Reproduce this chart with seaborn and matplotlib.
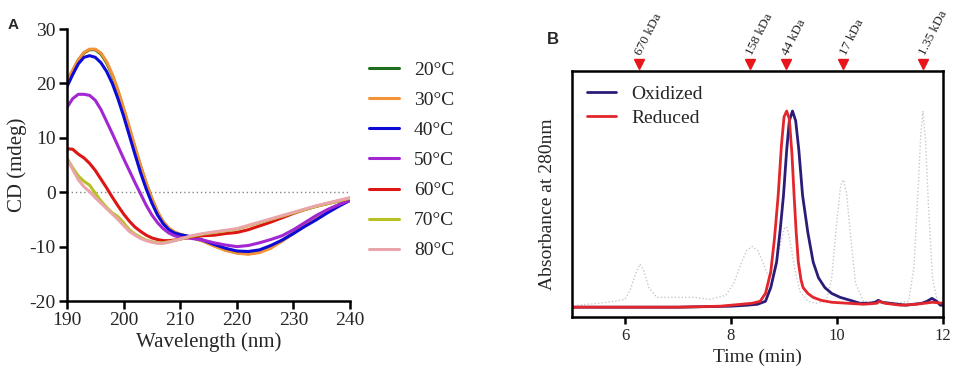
import numpy as np
import pandas as pd
import seaborn as sns
import matplotlib
matplotlib.use("Agg")
from matplotlib import pyplot as plt
from matplotlib import transforms

# ---- panel A: CD spectra ----
wavelength = [190, 191, 192, 193, 194, 195, 196, 197, 198, 199, 200,
              201, 202, 203, 204, 205, 206, 207, 208, 209, 210,
              212, 214, 216, 218, 220, 222, 224, 226, 228, 230,
              232, 234, 236, 238, 240]
cd_20 = [20.4, 22.3, 24.3, 25.6, 26.2, 26.2, 25.4, 23.8, 21.5, 18.6, 15.3,
         11.8, 8.2, 4.8, 1.6, -1.2, -3.7, -5.5, -6.7, -7.4, -7.8,
         -8.3, -8.9, -9.8, -10.6, -11.1, -11.3, -11.0, -10.1, -8.9, -7.5,
         -6.0, -4.6, -3.3, -2.3, -1.5]
cd_30 = [20.6, 22.4, 24.3, 25.7, 26.3, 26.3, 25.6, 24.0, 21.7, 18.8, 15.5,
         12.0, 8.4, 4.9, 1.7, -1.1, -3.6, -5.4, -6.6, -7.3, -7.7,
         -8.3, -9.0, -9.9, -10.7, -11.2, -11.4, -11.1, -10.3, -9.0, -7.6,
         -6.1, -4.7, -3.4, -2.4, -1.5]
cd_40 = [19.4, 21.6, 23.6, 24.8, 25.1, 24.8, 23.8, 22.2, 20.0, 17.2, 14.0,
         10.5, 7.0, 3.6, 0.6, -2.0, -4.2, -5.8, -6.9, -7.5, -7.8,
         -8.2, -8.8, -9.6, -10.3, -10.8, -10.9, -10.6, -9.8, -8.8, -7.6,
         -6.3, -5.1, -3.8, -2.6, -1.5]
cd_50 = [15.6, 17.2, 18.0, 18.0, 17.8, 16.9, 15.2, 13.0, 10.8, 8.5, 6.2,
         4.0, 1.8, -0.3, -2.4, -4.2, -5.6, -6.7, -7.5, -8.0, -8.3,
         -8.5, -8.8, -9.3, -9.7, -10.0, -9.8, -9.3, -8.7, -8.0, -6.9,
         -5.6, -4.3, -3.2, -2.3, -1.5]
cd_60 = [8.0, 7.9, 7.0, 6.3, 5.3, 4.0, 2.4, 0.8, -0.9, -2.5, -4.0,
         -5.3, -6.4, -7.2, -7.9, -8.4, -8.7, -8.9, -8.9, -8.8, -8.6,
         -8.2, -8.0, -7.9, -7.6, -7.4, -6.9, -6.2, -5.5, -4.7, -3.9,
         -3.2, -2.6, -2.1, -1.6, -1.1]
cd_70 = [6.2, 4.5, 3.0, 2.0, 1.3, -0.2, -1.6, -2.8, -3.8, -4.5, -5.6,
         -6.9, -7.7, -8.3, -8.8, -9.1, -9.3, -9.3, -9.1, -8.9, -8.6,
         -8.1, -7.7, -7.4, -7.1, -6.8, -6.2, -5.6, -5.0, -4.4, -3.8,
         -3.2, -2.6, -2.1, -1.6, -1.1]
cd_80 = [6.2, 4.2, 2.3, 1.0, 0.1, -1.0, -2.0, -3.0, -4.0, -5.0, -6.1,
         -7.2, -7.9, -8.5, -8.9, -9.2, -9.4, -9.4, -9.2, -8.9, -8.6,
         -8.0, -7.6, -7.3, -7.0, -6.7, -6.1, -5.5, -4.9, -4.3, -3.7,
         -3.1, -2.5, -2.0, -1.5, -1.0]
temps = ["20°C", "30°C", "40°C", "50°C", "60°C", "70°C", "80°C"]
temp_colors = ["#1f6e1f", "#f39237", "#0c0cd6", "#a326d3", "#dd1515", "#b7c122", "#eaa5aa"]

# ---- panel B: SEC traces ----
std_t = [5.1, 5.5, 5.8, 6.0, 6.1, 6.2, 6.28, 6.35, 6.45, 6.6, 6.8, 7.0, 7.3, 7.6,
         7.9, 8.05, 8.2, 8.3, 8.4, 8.5, 8.6, 8.7, 8.8, 8.9, 9.0, 9.05, 9.1, 9.2,
         9.3, 9.45, 9.6, 9.8, 9.9, 10.0, 10.07, 10.12, 10.18, 10.25, 10.35, 10.5,
         10.8, 11.1, 11.35, 11.45, 11.53, 11.58, 11.62, 11.67, 11.72, 11.8, 11.9]
std_abs = [0.01, 0.02, 0.03, 0.04, 0.09, 0.17, 0.22, 0.19, 0.10, 0.05, 0.05, 0.05, 0.05, 0.04,
           0.06, 0.12, 0.23, 0.29, 0.31, 0.29, 0.23, 0.16, 0.17, 0.28, 0.40, 0.41, 0.36, 0.20,
           0.08, 0.03, 0.02, 0.03, 0.15, 0.45, 0.62, 0.65, 0.58, 0.38, 0.12, 0.03,
           0.02, 0.02, 0.03, 0.20, 0.60, 0.88, 1.00, 0.85, 0.55, 0.15, 0.02]
ox_t = [5.0, 6.0, 7.0, 8.0, 8.3, 8.5, 8.65, 8.75, 8.86, 8.93, 8.99, 9.05, 9.1, 9.16,
        9.22, 9.28, 9.35, 9.45, 9.55, 9.65, 9.77, 9.9, 10.06, 10.25, 10.43, 10.6,
        10.72, 10.78, 10.85, 11.0, 11.3, 11.6, 11.7, 11.79, 11.88, 11.95, 12.0]
ox_abs = [0.0, 0.0, 0.0, 0.005, 0.01, 0.015, 0.03, 0.1, 0.23, 0.4, 0.57, 0.8, 0.95, 1.0,
          0.95, 0.8, 0.57, 0.38, 0.23, 0.15, 0.1, 0.07, 0.05, 0.035, 0.02, 0.02,
          0.025, 0.035, 0.025, 0.02, 0.01, 0.02, 0.03, 0.045, 0.03, 0.01, 0.01]
red_t = [5.0, 6.0, 7.0, 7.8, 8.2, 8.4, 8.55, 8.65, 8.75, 8.82, 8.89, 8.95, 9.0, 9.05,
         9.1, 9.15, 9.19, 9.23, 9.27, 9.32, 9.36, 9.45, 9.55, 9.7, 9.9, 10.2, 10.5,
         10.75, 10.8, 10.9, 11.2, 11.5, 11.8, 12.0]
red_abs = [0.0, 0.0, 0.0, 0.005, 0.015, 0.02, 0.03, 0.07, 0.18, 0.35, 0.57, 0.82, 0.97, 1.0,
           0.96, 0.78, 0.57, 0.38, 0.23, 0.14, 0.10, 0.07, 0.05, 0.035, 0.025, 0.02, 0.015,
           0.02, 0.03, 0.02, 0.01, 0.015, 0.025, 0.02]
marker_t = [6.27, 8.35, 9.04, 10.12, 11.62]
marker_labels = ["670 kDa", "158 kDa", "44 kDa", "17 kDa", "1.35 kDa"]

sns.set_style("ticks")
plt.rcParams["font.family"] = ["Liberation Serif", "DejaVu Serif"]
plt.rcParams["axes.linewidth"] = 1.8

fig = plt.figure(figsize=(9.57, 3.82), dpi=100)

# panel A
axA = fig.add_axes([0.070, 0.212, 0.2957, 0.712])
cd = pd.DataFrame({
    "Wavelength": wavelength * len(temps),
    "CD": cd_20 + cd_30 + cd_40 + cd_50 + cd_60 + cd_70 + cd_80,
    "Temp": [t for t in temps for _ in wavelength],
})
axA.axhline(0, color="#888888", ls=(0, (1, 2)), lw=1.0, zorder=1)
sns.lineplot(data=cd, x="Wavelength", y="CD", hue="Temp", palette=temp_colors,
             estimator=None, sort=False, lw=2.2, ax=axA)
axA.set_xlim(190, 240)
axA.set_ylim(-20, 30)
axA.set_xticks([190, 200, 210, 220, 230, 240])
axA.set_yticks([-20, -10, 0, 10, 20, 30])
axA.set_yticklabels(["-20", "-10", "0", "10", "20", "30"])
axA.tick_params(labelsize=14, length=6, width=1.8, color="black", pad=2)
axA.set_xlabel("Wavelength (nm)", fontsize=15, labelpad=2)
axA.set_ylabel("CD (mdeg)", fontsize=15, labelpad=2)
sns.despine(ax=axA)
for s in axA.spines.values():
    s.set_color("black")
legA = axA.legend(loc="upper left", bbox_to_anchor=(0.386, 0.839),
                  bbox_transform=fig.transFigure, frameon=False, fontsize=14,
                  handlelength=1.5, handletextpad=0.8, labelspacing=0.64,
                  borderpad=0, borderaxespad=0)
for h in legA.get_lines():
    h.set_linewidth(2.2)
fig.text(0.008, 0.925, "A", fontsize=11, fontweight="bold", family="Liberation Sans")

# panel B
axB = fig.add_axes([0.5977, 0.1702, 0.3877, 0.6439])
sec = pd.DataFrame({
    "Time": ox_t + red_t,
    "Abs": ox_abs + red_abs,
    "Sample": ["Oxidized"] * len(ox_t) + ["Reduced"] * len(red_t),
})
axB.plot(std_t, std_abs, color="#c8c8c8", ls=(0, (1, 1.5)), lw=1.0, zorder=1)
sns.lineplot(data=sec, x="Time", y="Abs", hue="Sample",
             palette=["#2c1c78", "#e3262b"], estimator=None, sort=False,
             lw=2.0, ax=axB)
axB.set_xlim(5, 12)
axB.set_ylim(-0.05, 1.204)
axB.set_xticks([6, 8, 10, 12])
axB.set_yticks([])
axB.tick_params(axis="x", labelsize=12, length=5, width=1.8, color="black", pad=3)
axB.set_xlabel("Time (min)", fontsize=14, labelpad=3)
axB.set_ylabel("Absorbance at 280nm", fontsize=14, labelpad=6)
axB.yaxis.set_label_coords(-0.042, 0.46)
for s in axB.spines.values():
    s.set_color("black")
legB = axB.legend(loc="upper left", bbox_to_anchor=(0.613, 0.777),
                  bbox_transform=fig.transFigure, frameon=False, fontsize=14,
                  handlelength=1.5, handletextpad=0.8, labelspacing=0.33,
                  borderpad=0, borderaxespad=0)
for h in legB.get_lines():
    h.set_linewidth(2.0)

trans = transforms.blended_transform_factory(axB.transData, axB.transAxes)
axB.plot(marker_t, [1.028] * len(marker_t), transform=trans, ls="", marker="v",
         color="#e8151b", markersize=7, clip_on=False)
for t, lab in zip(marker_t, marker_labels):
    axB.text(t - 0.01, 1.065, lab, transform=trans, rotation=63,
             rotation_mode="anchor", ha="left", va="center", fontsize=9.5)
fig.text(0.571, 0.885, "B", fontsize=12, fontweight="bold", family="Liberation Sans")

fig.savefig("out.png", dpi=100)
